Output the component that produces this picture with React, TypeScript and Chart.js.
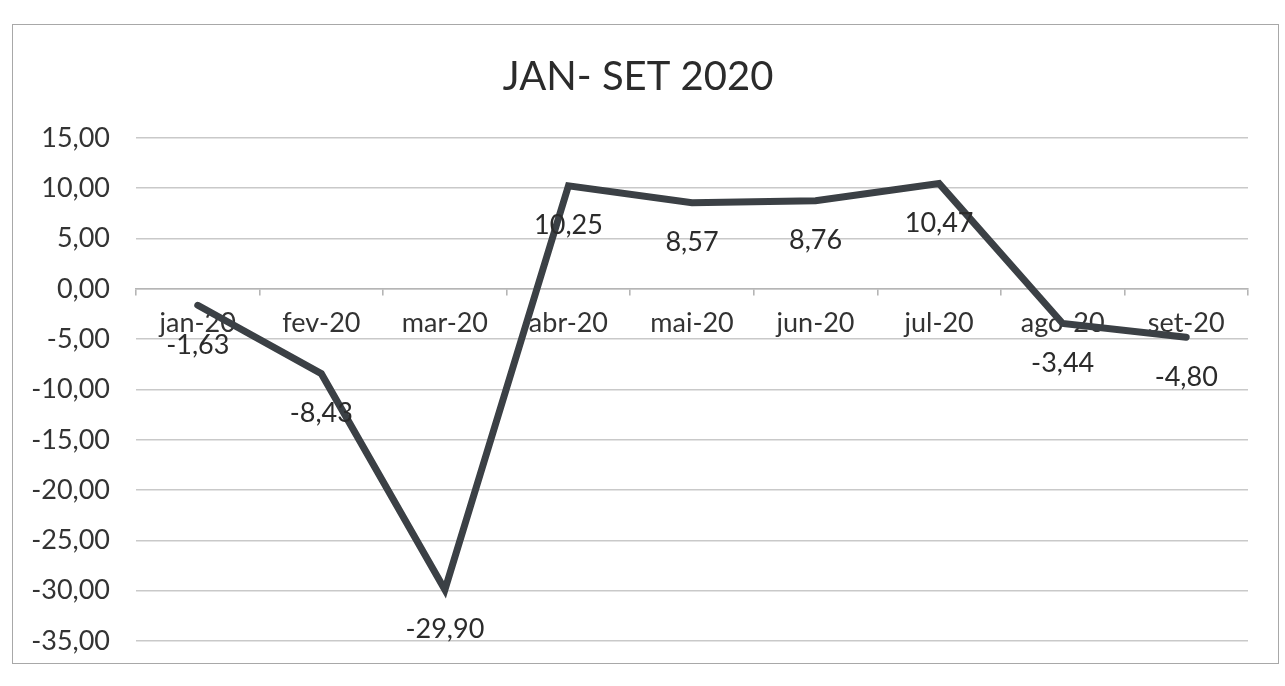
import React, { useEffect, useRef } from "react";
import { Chart, registerables } from "chart.js";

Chart.register(...registerables);

const titleText = "JAN- SET 2020";
const months = ["jan-20", "fev-20", "mar-20", "abr-20", "mai-20", "jun-20", "jul-20", "ago-20", "set-20"];
const values = [-1.63, -8.43, -29.9, 10.25, 8.57, 8.76, 10.47, -3.44, -4.8];
const yMin = -35;
const yMax = 15;
const yStep = 5;

const FONT = "Lato, 'Open Sans', sans-serif";
const fmt = (v: number) => v.toFixed(2).replace(".", ",");

const dataLabels = {
  id: "dataLabels",
  afterDatasetsDraw(chart: any) {
    const ctx = chart.ctx;
    const meta = chart.getDatasetMeta(0);
    ctx.save();
    ctx.font = `27px ${FONT}`;
    ctx.fillStyle = "#2b2b2b";
    ctx.textAlign = "center";
    ctx.textBaseline = "middle";
    meta.data.forEach((pt: any, i: number) => {
      ctx.fillText(fmt(values[i]), pt.x, pt.y + 40);
    });
    ctx.restore();
  },
};

export default function App() {
  const ref = useRef<HTMLCanvasElement | null>(null);
  useEffect(() => {
    if (!ref.current) return;
    const chart = new Chart(ref.current, {
      type: "line",
      data: {
        labels: months,
        datasets: [
          {
            data: values,
            borderColor: "#3b4045",
            borderWidth: 7,
            pointRadius: 0,
            tension: 0,
            borderJoinStyle: "miter",
            borderCapStyle: "round",
            fill: false,
          },
        ],
      },
      options: {
        animation: false,
        responsive: true,
        maintainAspectRatio: false,
        layout: { padding: { left: 15, right: 30, top: 0, bottom: 22 } },
        plugins: {
          legend: { display: false },
          tooltip: { enabled: false },
          title: {
            display: true,
            text: titleText,
            color: "#2b2b2b",
            font: { family: FONT, size: 40, weight: "normal" },
            padding: { top: 28, bottom: 37 },
          },
        },
        scales: {
          y: {
            min: yMin,
            max: yMax,
            ticks: {
              stepSize: yStep,
              padding: 26,
              color: "#333",
              font: { family: FONT, size: 27 },
              callback: (v: any) => fmt(Number(v)),
            },
            grid: { color: "#c9c9c9", lineWidth: 1.6, drawTicks: false },
            border: { display: false },
            afterFit: (s: any) => {
              s.width = 108;
              s.paddingTop = 0;
              s.paddingBottom = 0;
            },
          },
          x: {
            type: "category",
            position: { y: 0 } as any,
            offset: true,
            ticks: {
              padding: 12,
              color: "#333",
              font: { family: FONT, size: 27 },
              maxRotation: 0,
              autoSkip: false,
            },
            grid: { drawOnChartArea: false, drawTicks: true, tickLength: 6, color: "#b5b5b5", lineWidth: 1.6, offset: true },
            border: { display: true, color: "#b5b5b5", width: 1.6 },
            afterFit: (s: any) => {
              s.height = 0;
              s.paddingLeft = 0;
              s.paddingRight = 0;
            },
          },
        },
      },
      plugins: [dataLabels],
    });
    return () => chart.destroy();
  }, []);

  return (
    <div
      style={{
        position: "absolute",
        left: 12,
        top: 24,
        width: 1265,
        height: 638,
        border: "1.5px solid #a8a8a8",
        background: "#fff",
      }}
    >
      <canvas ref={ref} />
    </div>
  );
}
